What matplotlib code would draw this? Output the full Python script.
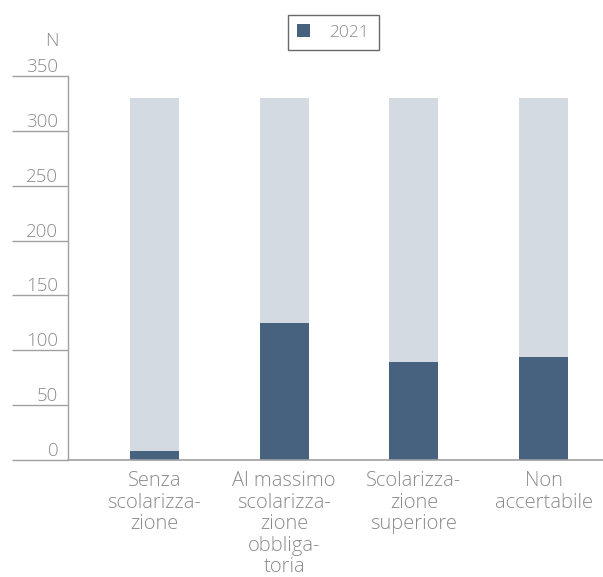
import numpy as np
import matplotlib.pyplot as plt
from matplotlib.transforms import blended_transform_factory

plt.rcParams.update({
    "font.family": ["Open Sans", "DejaVu Sans"],
    "font.weight": "light",
    "font.size": 13,
})

# ---- data ----
categories = ["Senza\nscolarizza-\nzione",
              "Al massimo\nscolarizza-\nzione\nobbliga-\ntoria",
              "Scolarizza-\nzione\nsuperiore",
              "Non\naccertabile"]
values_2021 = [8, 125, 89, 94]
background = [330, 330, 330, 330]
y_ticks = [0, 50, 100, 150, 200, 250, 300, 350]

dark = "#46627f"
light = "#d3dae2"
grey_txt = "#8a8a8a"
axis_col = "#a0a0a0"

fig = plt.figure(figsize=(6.03, 5.77), dpi=100)
ax = fig.add_axes([68 / 603, 1 - 460 / 577, (603 - 68) / 603, (460 - 76) / 577])

x = np.arange(len(categories))
w = 0.377
ax.bar(x, background, width=w, color=light, zorder=1)
ax.bar(x, values_2021, width=w, color=dark, zorder=2, label="2021")

ax.set_xlim(-0.665, 3.457)
ax.set_ylim(0, 350)

for s in ["top", "right"]:
    ax.spines[s].set_visible(False)
ax.spines["left"].set_color(axis_col)
ax.spines["bottom"].set_color(axis_col)
ax.spines["left"].set_linewidth(1.0)
ax.spines["bottom"].set_linewidth(1.2)

# y ticks: long outward lines with labels sitting on top of them
ax.set_yticks(y_ticks)
ax.set_yticklabels([])
ax.tick_params(axis="y", length=40, width=1.0, color=axis_col, direction="out")
tr = blended_transform_factory(ax.transAxes, ax.transData)
for v in y_ticks:
    ax.annotate(str(v), xy=(0, v), xycoords=tr, xytext=(-7, 0),
                textcoords="offset points", ha="right", va="bottom",
                color=grey_txt, fontsize=13.5)
ax.annotate("N", xy=(0, 350), xycoords=tr, xytext=(-7, 19),
            textcoords="offset points", ha="right", va="bottom",
            color=grey_txt, fontsize=13.5)

# x labels
ax.set_xticks(x)
ax.set_xticklabels(categories, color=grey_txt, fontsize=14.5, linespacing=1.1,
                   va="top")
ax.tick_params(axis="x", length=0, pad=8)

leg = ax.legend(loc="upper center", bbox_to_anchor=(0.496, 1.16), frameon=True,
                fancybox=False, edgecolor="#444444", handlelength=0.75,
                handleheight=0.75, handletextpad=1.1, borderpad=0.55,
                borderaxespad=0, labelcolor=grey_txt, fontsize=12.5)
leg.get_frame().set_linewidth(1.0)

fig.savefig("out.png", dpi=100)
